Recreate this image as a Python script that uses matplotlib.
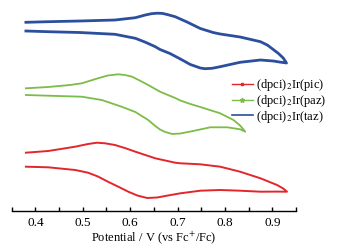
import matplotlib
matplotlib.use("Agg")
import matplotlib.pyplot as plt

plt.rcParams['font.family'] = ['Liberation Serif', 'DejaVu Serif']
plt.rcParams['mathtext.fontset'] = 'stix'

# Cyclic voltammograms (potential in V vs Fc+/Fc, current in arbitrary offset units)
taz_E = [0.380, 0.427, 0.494, 0.568, 0.611, 0.632, 0.645, 0.657, 0.668, 0.678, 0.695, 0.720,
         0.748, 0.775, 0.790, 0.832, 0.875, 0.890, 0.902, 0.913, 0.923, 0.930,
         0.915, 0.902, 0.875, 0.832, 0.790, 0.773, 0.758, 0.748, 0.727, 0.706, 0.684, 0.663,
         0.653, 0.632, 0.611, 0.568, 0.494, 0.427, 0.380]
taz_I = [188.7, 189.3, 190.0, 191.0, 193.3, 196.0, 197.3, 197.8, 197.6, 196.5, 194.3, 189.0,
         182.5, 178.5, 177.0, 174.0, 169.3, 165.8, 161.5, 157.5, 153.0, 148.0,
         149.0, 150.0, 151.0, 148.7, 144.3, 142.7, 142.3, 143.0, 146.5, 152.0, 157.5, 161.5,
         164.3, 168.8, 172.7, 176.7, 178.5, 179.3, 180.0]

paz_E = [0.380, 0.427, 0.473, 0.498, 0.515, 0.532, 0.553, 0.575, 0.589, 0.604, 0.620, 0.638,
         0.663, 0.695, 0.706, 0.727, 0.748, 0.790, 0.818, 0.832, 0.843,
         0.832, 0.805, 0.769, 0.733, 0.706, 0.689, 0.674, 0.663, 0.653, 0.638, 0.611, 0.582,
         0.540, 0.498, 0.427, 0.380]
paz_I = [122.7, 124.0, 126.0, 127.7, 130.2, 132.7, 135.5, 136.7, 136.0, 134.3, 130.5, 126.0,
         119.3, 113.0, 110.5, 107.0, 104.0, 97.7, 91.0, 85.5, 79.3,
         81.7, 83.7, 83.7, 80.0, 77.5, 77.0, 79.0, 81.5, 85.0, 91.0, 99.0, 104.3,
         111.0, 114.3, 115.3, 116.0]

pic_E = [0.380, 0.427, 0.484, 0.511, 0.530, 0.547, 0.568, 0.590, 0.611, 0.653, 0.674, 0.695,
         0.706, 0.748, 0.790, 0.832, 0.875, 0.910, 0.923, 0.931,
         0.910, 0.875, 0.832, 0.790, 0.748, 0.706, 0.674, 0.657, 0.636, 0.615, 0.596, 0.575,
         0.553, 0.532, 0.511, 0.484, 0.427, 0.380]
pic_I = [58.3, 60.0, 64.3, 67.0, 68.3, 67.7, 66.0, 62.8, 59.3, 52.7, 50.5, 48.3,
         47.7, 46.7, 44.3, 39.3, 32.7, 26.0, 22.5, 19.3,
         19.4, 19.3, 20.3, 21.0, 20.3, 17.7, 15.0, 13.5, 13.0, 15.5, 19.3, 24.3,
         29.3, 34.5, 38.3, 41.0, 43.7, 44.3]

labels = [r'(dpci)$_2$Ir(pic)', r'(dpci)$_2$Ir(paz)', r'(dpci)$_2$Ir(taz)']
colors = ['#e3262c', '#7cbc48', '#2b4f9c']

fig = plt.figure(figsize=(3.41, 2.47), dpi=100)
ax = fig.add_axes([11.7 / 341, 36 / 247, 284.3 / 341, 211 / 247])

ax.plot(pic_E, pic_I, color=colors[0], lw=1.4, solid_joinstyle='round')
ax.plot(paz_E, paz_I, color=colors[1], lw=1.3, solid_joinstyle='round')
ax.plot(taz_E, taz_I, color=colors[2], lw=2.0, solid_joinstyle='round')

# legend proxies
h1, = ax.plot([], [], color=colors[0], lw=1.0, marker='s', ms=1.8)
h2, = ax.plot([], [], color=colors[1], lw=1.0, marker='*', ms=3.5)
h3, = ax.plot([], [], color=colors[2], lw=1.2)
fig.legend([h1, h2, h3], labels, loc='center left', bbox_to_anchor=(232 / 341, 1 - 101 / 247),
           frameon=False, fontsize=9.0, handlelength=1.65, handletextpad=0.3,
           labelspacing=-0.02, borderpad=0, borderaxespad=0)

ax.set_xlim(0.35, 0.95)
ax.set_ylim(0, 211)
for s in ['top', 'left', 'right']:
    ax.spines[s].set_visible(False)
ax.spines['bottom'].set_linewidth(1.0)
ax.set_yticks([])
ax.set_xticks([0.4, 0.5, 0.6, 0.7, 0.8, 0.9])
ax.set_xticks([0.35, 0.45, 0.55, 0.65, 0.75, 0.85, 0.95], minor=True)
ax.tick_params(axis='x', which='both', direction='in', length=3, width=1.0, labelsize=9.5, pad=4)
ax.set_xlabel(r'Potential / V (vs Fc$^{+}$/Fc)', fontsize=9.0, labelpad=0.5)

fig.savefig('out.png', dpi=100, facecolor='white')
